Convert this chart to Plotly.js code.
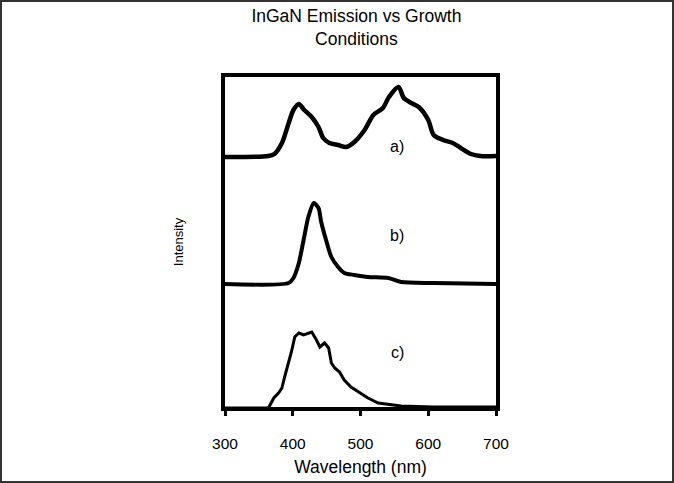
<!DOCTYPE html>
<html>
<head>
<meta charset="utf-8">
<script src="https://cdn.plot.ly/plotly-3.0.1.min.js"></script>
<style>
  html, body { margin: 0; padding: 0; background: #fff; }
  #wrap { width: 670px; height: 479px; border: 2px solid #333; }
  #chart { width: 670px; height: 479px; }
</style>
</head>
<body>
<div id="wrap"><div id="chart"></div></div>
<script>
// Wavelength (nm) and relative intensity
const wlA  = [300,364,373,384,394,401,409,417,428,438,445,454,467,479,491,506,519,533,542,556,564,575,586,600,608,622,636,648,663,677,700];
const intA = [0,0.01,0.03,0.14,0.34,0.47,0.53,0.47,0.40,0.30,0.19,0.14,0.12,0.10,0.15,0.27,0.42,0.49,0.60,0.70,0.59,0.54,0.50,0.37,0.22,0.17,0.14,0.09,0.03,0.01,0.01];

const wlB  = [300,394,401,409,416,423,431,438,442,450,457,467,476,491,511,541,560,608,700];
const intB = [0,0.01,0.06,0.21,0.44,0.67,0.81,0.76,0.62,0.42,0.27,0.17,0.11,0.09,0.07,0.06,0.02,0.01,0];

const wlC  = [300,362,365,372,379,384,388,394,398,403,409,416,423,428,435,440,447,453,457,462,469,476,486,498,511,526,545,560,608,700];
const intC = [0,0,0.01,0.10,0.15,0.20,0.31,0.45,0.56,0.71,0.75,0.73,0.75,0.76,0.68,0.61,0.65,0.60,0.45,0.40,0.36,0.28,0.21,0.16,0.10,0.05,0.03,0.02,0.01,0.01];

const seriesLabels = ['a)', 'b)', 'c)'];
const xTicks = [300, 400, 500, 600, 700];

// vertical stacking offsets for the three spectra
const offsets = [2.53, 1.26, 0.02];

const shift = (arr, o) => arr.map(v => v + o);
const FONT = 'Arial, "Liberation Sans", sans-serif';

const traces = [
  {x: wlA, y: shift(intA, offsets[0]), mode: 'lines', line: {color: '#000', width: 4.5, shape: 'spline', smoothing: 0.8}, hoverinfo: 'skip'},
  {x: wlB, y: shift(intB, offsets[1]), mode: 'lines', line: {color: '#000', width: 4, shape: 'spline', smoothing: 0.7}, hoverinfo: 'skip'},
  {x: wlC, y: shift(intC, offsets[2]), mode: 'lines', line: {color: '#000', width: 3}, hoverinfo: 'skip'}
];

const labelY = [2.64, 1.75, 0.58];
const annotations = seriesLabels.map((t, i) => ({
  x: 554, y: labelY[i], xref: 'x', yref: 'y', text: t, showarrow: false,
  font: {family: FONT, size: 16, color: '#000'}, xanchor: 'center', yanchor: 'middle'
}));

const layout = {
  width: 670, height: 479,
  margin: {l: 223, r: 176, t: 75, b: 74},
  paper_bgcolor: '#fff', plot_bgcolor: '#fff',
  showlegend: false,
  title: {
    text: 'InGaN Emission vs Growth<br>Conditions\u00A0\u00A0\u00A0\u00A0',
    font: {family: FONT, size: 17.5, color: '#000'},
    x: 0.529, xref: 'container', xanchor: 'center',
    y: 0.958, yref: 'container', yanchor: 'top'
  },
  xaxis: {
    range: [300, 700], tickvals: xTicks, ticktext: xTicks.map(String),
    showgrid: false, zeroline: false,
    showline: true, linecolor: '#000', linewidth: 4, mirror: true,
    ticks: 'outside', ticklen: 5, tickwidth: 3, tickcolor: '#000',
    tickfont: {family: FONT, size: 15.5, color: '#000'},
    ticklabelstandoff: 14,
    automargin: false,
    title: {text: 'Wavelength (nm)', font: {family: FONT, size: 17.5, color: '#000'}}
  },
  yaxis: {
    range: [0.03, 3.33],
    showgrid: false, zeroline: false, showticklabels: false,
    showline: true, linecolor: '#000', linewidth: 4, mirror: true,
    ticks: '',
    automargin: true,
    title: {text: 'Intensity', font: {family: FONT, size: 13, color: '#000'}, standoff: 35}
  },
  annotations: annotations
};

Plotly.newPlot('chart', traces, layout, {displayModeBar: false, staticPlot: true});
</script>
</body>
</html>
